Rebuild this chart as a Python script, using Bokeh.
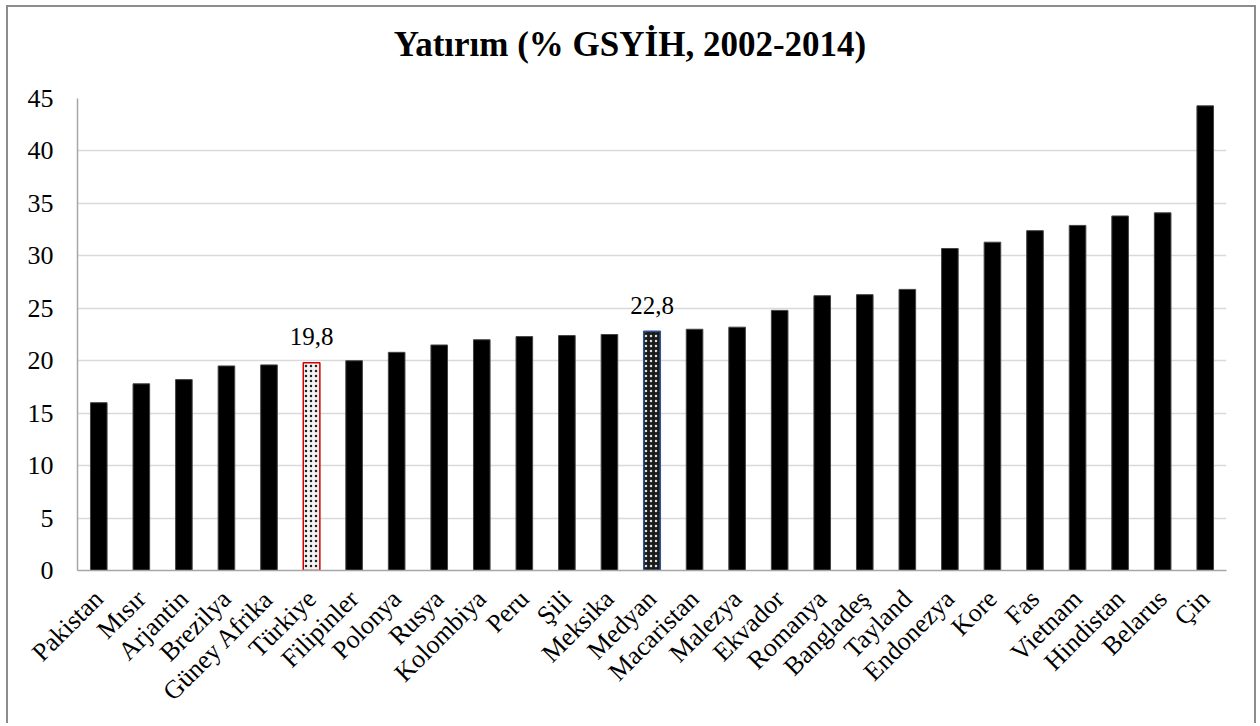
import math
from bokeh.plotting import figure
from bokeh.layouts import column
from bokeh.models import ColumnDataSource, FixedTicker, Div
from bokeh.core.properties import value
from bokeh.embed import file_html
from bokeh.resources import INLINE

countries = ["Pakistan", "Mısır", "Arjantin", "Brezilya", "Güney Afrika", "Türkiye",
             "Filipinler", "Polonya", "Rusya", "Kolombiya", "Peru", "Şili", "Meksika",
             "Medyan", "Macaristan", "Malezya", "Ekvador", "Romanya", "Bangladeş",
             "Tayland", "Endonezya", "Kore", "Fas", "Vietnam", "Hindistan", "Belarus", "Çin"]
values = [16.0, 17.8, 18.2, 19.5, 19.6, 19.8, 20.0, 20.8, 21.5, 22.0, 22.3, 22.4, 22.5,
          22.8, 23.0, 23.2, 24.8, 26.2, 26.3, 26.8, 30.7, 31.3, 32.4, 32.9, 33.8, 34.1, 44.3]
highlight = {"Türkiye": "19,8", "Medyan": "22,8"}
y_ticks = [0, 5, 10, 15, 20, 25, 30, 35, 40, 45]
title_text = "Yatırım (% GSYİH, 2002-2014)"

FONT = "Liberation Serif"

title_div = Div(text=title_text, width=1234, height=66,
                styles={"font-family": FONT, "font-size": "35px", "font-weight": "bold",
                        "text-align": "center", "line-height": "66px", "color": "black",
                        "width": "1234px"})

p = figure(x_range=countries, y_range=(0, 45), width=1246, height=640,
           output_backend="svg", toolbar_location=None,
           min_border_left=69, min_border_right=28, min_border_top=15, min_border_bottom=153)

normal = [c for c in countries if c not in highlight]
src = ColumnDataSource(dict(x=normal, top=[values[countries.index(c)] for c in normal]))
p.vbar(x="x", top="top", width=0.39, source=src, fill_color="black", line_color="#444444", line_width=1)

tr = ColumnDataSource(dict(x=["Türkiye"], top=[values[countries.index("Türkiye")]]))
p.vbar(x="x", top="top", width=0.39, source=tr, fill_color="#f2f2f2", line_color="#d00000",
       line_width=1.5, hatch_pattern="dot", hatch_color="#222222", hatch_scale=5, hatch_weight=1.5)
md = ColumnDataSource(dict(x=["Medyan"], top=[values[countries.index("Medyan")]]))
p.vbar(x="x", top="top", width=0.39, source=md, fill_color="#1a1a1a", line_color="#2f5597",
       line_width=1.5, hatch_pattern="dot", hatch_color="#dddddd", hatch_scale=5, hatch_weight=1.5)

lab = ColumnDataSource(dict(x=list(highlight.keys()),
                            y=[values[countries.index(c)] for c in highlight],
                            t=list(highlight.values())))
p.text(x="x", y="y", text="t", source=lab, text_font=value(FONT), text_font_size="25px",
       text_align="center", text_baseline="alphabetic", y_offset=-26, text_color="black")

p.outline_line_color = None
p.xgrid.grid_line_color = None
p.ygrid.grid_line_color = "#d9d9d9"
p.ygrid.grid_line_width = 1.5

p.yaxis.ticker = FixedTicker(ticks=y_ticks)
p.yaxis.axis_line_color = "#a6a6a6"
p.yaxis.axis_line_width = 1.5
p.yaxis.major_tick_line_color = None
p.yaxis.minor_tick_line_color = None
p.yaxis.major_label_text_font = FONT
p.yaxis.major_label_text_font_size = "26px"
p.yaxis.major_label_text_color = "black"
p.yaxis.major_label_standoff = 18

p.xaxis.axis_line_color = "#a6a6a6"
p.xaxis.axis_line_width = 1.5
p.xaxis.major_tick_line_color = None
p.xaxis.major_label_orientation = math.pi / 4
p.xaxis.major_label_text_font = FONT
p.xaxis.major_label_text_font_size = "26px"
p.xaxis.major_label_text_color = "black"
p.xaxis.major_label_standoff = 18
p.x_range.range_padding = 0

layout = column(title_div, p, spacing=0)
layout.styles = {"margin-left": "6px", "margin-top": "5px",
                 "border-left": "2px solid #8c8c8c", "border-top": "2px solid #8c8c8c",
                 "border-right": "2px solid #8c8c8c"}

open("out.html", "w").write(file_html(layout, INLINE))
